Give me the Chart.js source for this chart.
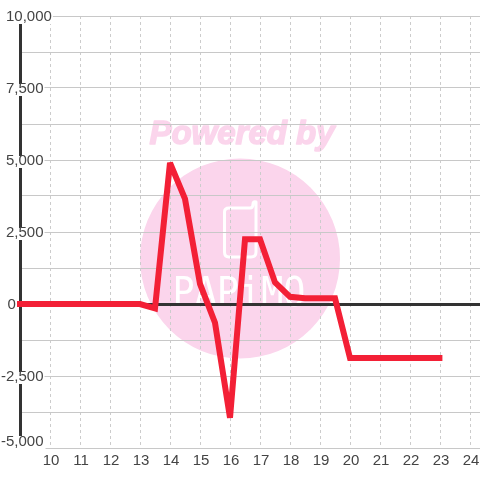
<!DOCTYPE html>
<html><head><meta charset="utf-8">
<style>html,body{margin:0;padding:0;background:#fff}canvas{display:block}</style>
<script src="https://cdn.jsdelivr.net/npm/chart.js@4"></script></head>
<body><div style="width:480px;height:480px"><canvas id="c" width="480" height="480"></canvas></div>
<script>
const xValues=[8.9,10,11,12,13,13.5,14,14.5,15,15.5,16,16.5,17,17.5,18,18.5,19,19.5,20,20.5,21,21.5,22,22.5,23.08];
const yValues=[0,0,0,0,0,-150,4900,3650,700,-650,-3950,2250,2250,750,250,200,200,200,-1875,-1875,-1875,-1875,-1875,-1875,-1875];
const xTicks=[10,11,12,13,14,15,16,17,18,19,20,21,22,23,24];
const yTicks=[10000,7500,5000,2500,0,-2500,-5000];
const watermarkTop="Powered by";
const watermarkBottom="PAPiMO";
const fmt=v=>v.toLocaleString('en-US');
const FONT='15px "Liberation Sans"';
const pink='#fbd5ec';
const watermark={id:'watermark',beforeDraw(ch){
  const c=ch.ctx;c.save();
  c.fillStyle=pink;c.beginPath();c.arc(240,258.5,100,0,Math.PI*2);c.fill();
  c.font='italic bold 33px "Liberation Sans"';c.textAlign='center';c.textBaseline='middle';
  c.strokeStyle=pink;c.lineWidth=1.5;c.lineJoin='round';
  c.fillText(watermarkTop,242,135);c.strokeText(watermarkTop,242,135);
  c.strokeStyle='#fff';c.lineWidth=3;
  c.beginPath();c.moveTo(229,208);c.lineTo(250,208);c.quadraticCurveTo(253,208,253,204);c.quadraticCurveTo(253,201,256,202);c.lineTo(256,252);c.quadraticCurveTo(256,257,251,257);c.lineTo(229,257);c.quadraticCurveTo(224.5,257,224.5,252);c.lineTo(224.5,212);c.quadraticCurveTo(224.5,208,229,208);c.closePath();c.stroke();
  c.font='40px "DejaVu Sans Mono"';c.fillStyle='#fff';c.textBaseline='alphabetic';
  c.save();c.translate(239,306);c.scale(0.92,1);c.fillText(watermarkBottom,0,0);c.restore();
  c.restore();
}};
const labels={id:'labels',beforeDatasetsDraw(ch){
  const c=ch.ctx,s=ch.scales.y,sx=ch.scales.x;c.save();c.font=FONT;c.textBaseline='middle';
  yTicks.forEach(v=>{
    const t=fmt(v),w=c.measureText(t).width,y=s.getPixelForValue(v);
    const x=v>=10000?6:(v===0?7.5:43.5-w);
    const ty=v<=-5000?y-6.5:y+0.5;
    c.fillStyle='#fff';
    if(v<=-5000)c.fillRect(x-1,y-12,w+3,16);
    else if(v>=10000)c.fillRect(x-1,y-8,w+2,16);
    else if(v!==0)c.fillRect(x-1,y-4,w+2,12);
    c.fillStyle='#444';c.textAlign='left';c.fillText(t,x,ty);
  });
  c.textAlign='center';c.fillStyle='#444';
  xTicks.forEach(v=>c.fillText(String(v),sx.getPixelForValue(v)+1,461));
  c.restore();
  ch.ctx.miterLimit=2;
}};
new Chart(document.getElementById('c'),{
  type:'line',
  data:{datasets:[{data:xValues.map((x,i)=>({x,y:yValues[i]})),borderColor:'#f32036',borderWidth:6,pointRadius:0,tension:0,borderCapStyle:'butt',borderJoinStyle:'miter',clip:false}]},
  options:{responsive:false,animation:false,
    layout:{padding:{top:16,right:0,bottom:32,left:20}},
    plugins:{legend:{display:false},tooltip:{enabled:false}},
    scales:{
      x:{type:'linear',min:9,max:24.333,
        afterBuildTicks(s){s.ticks=xTicks.map(value=>({value}))},
        grid:{color:'#cccccc',lineWidth:1,drawTicks:false},border:{display:false,dash:[3,3]},
        ticks:{display:false}},
      y:{type:'linear',min:-5000,max:10000,
        ticks:{display:false,stepSize:1250},
        grid:{drawTicks:false,lineWidth:c=>c.tick&&c.tick.value===0?3:1,color:c=>c.tick&&c.tick.value===0?'#333':'#c8c8c8'},
        border:{display:true,color:'#333',width:3}}
    }},
  plugins:[watermark,labels]
});
</script></body></html>
